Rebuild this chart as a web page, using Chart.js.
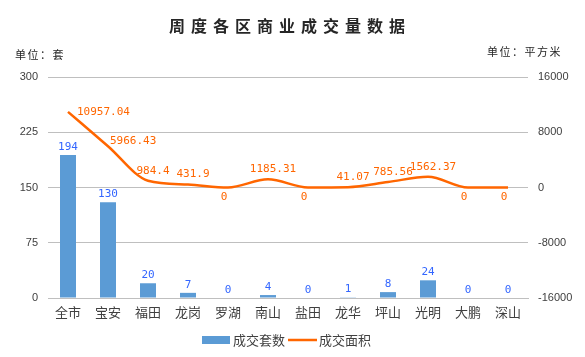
<!DOCTYPE html>
<html><head><meta charset="utf-8">
<script src="https://cdn.jsdelivr.net/npm/chart.js@4/dist/chart.umd.min.js"></script>
<style>html,body{margin:0;padding:0;background:#fff}#wrap{width:585px;height:357px}</style>
</head><body><div id="wrap"><canvas id="c" width="585" height="357"></canvas></div>
<script>
const categories = ['全市','宝安','福田','龙岗','罗湖','南山','盐田','龙华','坪山','光明','大鹏','深山'];
const unitCounts = [194,130,20,7,0,4,0,1,8,24,0,0];
const areaValues = [10957.04,5966.43,984.4,431.9,0,1185.31,0,41.07,785.56,1562.37,0,0];
const areaLabels = ['10957.04','5966.43','984.4','431.9','0','1185.31','0','41.07','785.56','1562.37','0','0'];
const leftTicks = [0,75,150,225,300];
const rightTicks = [-16000,-8000,0,8000,16000];
const titleText = '周度各区商业成交量数据';
const leftUnit = '单位：套';
const rightUnit = '单位：平方米';
const seriesNames = ['成交套数','成交面积'];

const mono = '"DejaVu Sans Mono", "Liberation Mono", monospace';
const cjk = '"Noto Sans CJK SC", sans-serif';
const barColor = '#5B9BD5';
const lineColor = '#FF6600';

const deco = {
  id: 'deco',
  afterDraw(chart) {
    const ctx = chart.ctx;
    const xs = chart.scales.x, yl = chart.scales.y, yr = chart.scales.y1;
    ctx.save();
    // title
    ctx.font = 'bold 16px ' + cjk;
    ctx.fillStyle = '#262626';
    ctx.textAlign = 'center';
    ctx.textBaseline = 'middle';
    try { ctx.letterSpacing = '6px'; } catch(e) {}
    ctx.fillText(titleText, 290, 26);
    try { ctx.letterSpacing = '1.5px'; } catch(e) {}
    ctx.font = '11px ' + cjk;
    ctx.textAlign = 'left';
    ctx.fillText(leftUnit, 15, 55);
    ctx.fillText(rightUnit, 487, 52);
    try { ctx.letterSpacing = '0px'; } catch(e) {}
    // bar labels
    ctx.font = '11px ' + mono;
    ctx.fillStyle = '#3366FF';
    ctx.textAlign = 'center';
    ctx.textBaseline = 'middle';
    unitCounts.forEach((v, i) => {
      ctx.fillText(String(v), xs.getPixelForValue(i), yl.getPixelForValue(v) - 8);
    });
    // line labels
    ctx.fillStyle = lineColor;
    areaValues.forEach((v, i) => {
      const x = xs.getPixelForValue(i), y = yr.getPixelForValue(v);
      if (v === 0) {
        ctx.textAlign = 'center';
        ctx.fillText(areaLabels[i], x - 4, y + 10);
      } else if (i === 0) {
        ctx.textAlign = 'left';
        ctx.fillText(areaLabels[i], x + 9, y);
      } else if (i === 1) {
        ctx.textAlign = 'left';
        ctx.fillText(areaLabels[i], x + 2, y - 5);
      } else {
        ctx.textAlign = 'center';
        ctx.fillText(areaLabels[i], x + 5, y - 10);
      }
    });
    // legend
    const ly = 340;
    ctx.fillStyle = barColor;
    ctx.fillRect(202, ly - 4, 28, 8);
    ctx.strokeStyle = lineColor;
    ctx.lineWidth = 2.5;
    ctx.beginPath(); ctx.moveTo(288, ly); ctx.lineTo(317, ly); ctx.stroke();
    ctx.font = '13px ' + cjk;
    ctx.fillStyle = '#404040';
    ctx.textAlign = 'left';
    ctx.fillText(seriesNames[0], 233, ly);
    ctx.fillText(seriesNames[1], 319, ly);
    ctx.restore();
  }
};

new Chart(document.getElementById('c'), {
  data: {
    labels: categories,
    datasets: [
      { type: 'line', label: seriesNames[1], data: areaValues, yAxisID: 'y1',
        borderColor: lineColor, backgroundColor: lineColor, borderWidth: 2.5,
        pointRadius: 0, cubicInterpolationMode: 'monotone', order: 0 },
      { type: 'bar', label: seriesNames[0], data: unitCounts, yAxisID: 'y',
        backgroundColor: barColor, categoryPercentage: 1, barPercentage: 0.4, order: 1 }
    ]
  },
  options: {
    responsive: false,
    animation: false,
    devicePixelRatio: 1,
    layout: { padding: { top: 77, left: 8, right: 0, bottom: 29 } },
    plugins: {
      title: { display: false },
      tooltip: { enabled: false },
      legend: { display: false }
    },
    scales: {
      x: {
        grid: { display: false, drawTicks: false },
        border: { display: true, color: '#BFBFBF' },
        ticks: { font: { family: cjk, size: 13 }, color: '#404040', padding: 6, maxRotation: 0, autoSkip: false },
        afterFit(s) { s.height = 30; }
      },
      y: {
        position: 'left', min: 0, max: 300,
        afterBuildTicks(s) { s.ticks = leftTicks.map(v => ({ value: v })); },
        grid: { color: '#BFBFBF', drawTicks: false },
        border: { display: false },
        ticks: { font: { family: 'Liberation Sans, sans-serif', size: 11 }, color: '#404040', padding: 10,
                 callback: v => String(v) },
        afterFit(s) { s.width = 40; }
      },
      y1: {
        position: 'right', min: -16000, max: 16000,
        afterBuildTicks(s) { s.ticks = rightTicks.map(v => ({ value: v })); },
        grid: { display: false, drawTicks: false },
        border: { display: false },
        ticks: { font: { family: 'Liberation Sans, sans-serif', size: 11 }, color: '#404040', padding: 10,
                 callback: v => String(v) },
        afterFit(s) { s.width = 57; }
      }
    }
  },
  plugins: [deco]
});
</script></body></html>
